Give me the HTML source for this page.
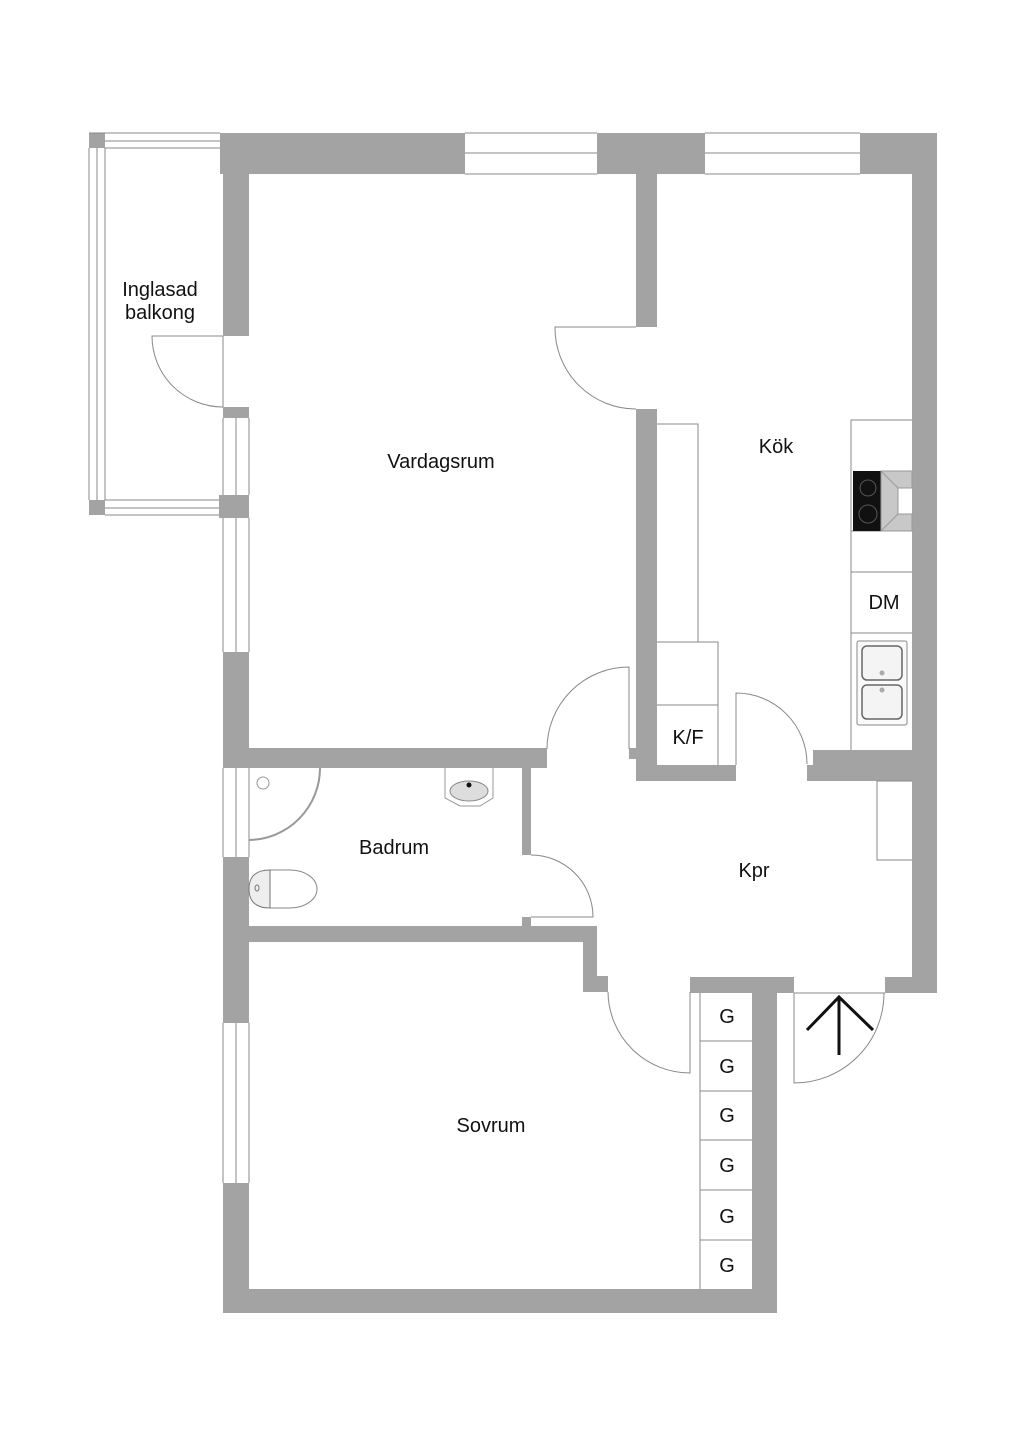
<!DOCTYPE html>
<html><head><meta charset="utf-8"><style>
html,body{margin:0;padding:0;background:#fff}
svg{display:block}
text{font-family:"Liberation Sans","DejaVu Sans",sans-serif;font-size:20px;fill:#111}
</style></head><body>
<svg width="1024" height="1449" viewBox="0 0 1024 1449" xmlns="http://www.w3.org/2000/svg">
<g fill="#a3a3a3">
<!-- top wall -->
<rect x="220" y="133" width="245" height="41"/>
<rect x="597" y="133" width="108" height="41"/>
<rect x="860" y="133" width="77" height="41"/>
<!-- right outer wall -->
<rect x="912" y="133" width="25" height="860"/>
<rect x="885" y="977" width="52" height="16"/>
<!-- left wall vardagsrum -->
<rect x="223" y="133" width="26" height="203"/>
<rect x="223" y="407" width="26" height="11"/>
<rect x="219" y="495" width="30" height="23"/>
<rect x="223" y="652" width="26" height="116"/>
<rect x="223" y="857" width="26" height="166"/>
<rect x="223" y="1183" width="26" height="130"/>
<!-- bottom -->
<rect x="223" y="1289" width="554" height="24"/>
<rect x="752" y="977" width="25" height="336"/>
<rect x="690" y="977" width="104" height="16"/>
<!-- vardagsrum/kök wall -->
<rect x="636" y="133" width="21" height="194"/>
<rect x="636" y="409" width="21" height="372"/>
<rect x="629" y="748" width="8" height="11"/>
<rect x="636" y="765" width="100" height="16"/>
<rect x="813" y="750" width="99" height="31"/>
<rect x="807" y="765" width="8" height="16"/>
<!-- vardagsrum bottom -->
<rect x="249" y="748" width="298" height="20"/>
<rect x="522" y="758" width="9" height="97"/>
<rect x="531" y="748" width="16" height="10"/>
<rect x="522" y="917" width="9" height="9"/>
<rect x="249" y="926" width="348" height="16"/>
<rect x="583" y="940" width="14" height="37"/>
<rect x="583" y="976" width="25" height="16"/>
<rect x="89" y="133" width="16" height="15"/>
<rect x="89" y="500" width="16" height="15"/>
</g>
<g fill="none" stroke="#888" stroke-width="1">
<!-- windows top -->
<path d="M465 133H597M465 153H597M465 174H597M705 133H860M705 153H860M705 174H860"/>
<!-- balcony -->
<path d="M105 133H220M105 141H220M105 148H220M89 148V500M97 148V500M105 148V500M105 500H219M105 508H219M105 515H219M89 133H220"/>
<!-- left windows -->
<path d="M223 418V495M236 418V495M249 418V495M223 518V652M236 518V652M249 518V652M223 768V857M236 768V857M249 768V857M223 1023V1183M236 1023V1183M249 1023V1183M223 336V407"/>
<!-- doors -->
<path d="M223 336H152A71 71 0 0 0 223 407"/>
<path d="M636 327H555A81 81 0 0 0 636 409"/>
<path d="M629 749V667A82 82 0 0 0 547 749"/>
<path d="M736 765V693A71 71 0 0 1 807 764"/>
<path d="M531 917H593A62 62 0 0 0 531 855"/>
<path d="M690 992V1073A82 82 0 0 1 608 992"/>
<path d="M794 993V1083A90 90 0 0 0 884 993"/>
<path d="M794 993H885"/>
<!-- kitchen counters -->
<path d="M657 424H698V642M657 642H718V765M657 705H718"/>
<path d="M912 420H851V750M851 531H912M851 572H912M851 633H912"/>
<!-- kpr closet -->
<path d="M912 781H877V860H912"/>
<!-- storage -->
<path d="M700 993V1289M700 1041H752M700 1091H752M700 1140H752M700 1190H752M700 1240H752"/>
</g>
<!-- shower -->
<path d="M249 840A72 72 0 0 0 320 768" fill="none" stroke="#999" stroke-width="2"/>
<circle cx="263" cy="783" r="6" fill="none" stroke="#999"/>
<!-- sink bath -->
<path d="M445 768V798L460 806H480L493 798V768" fill="none" stroke="#999"/>
<ellipse cx="469" cy="791" rx="19" ry="10" fill="#ddd" stroke="#888"/>
<circle cx="469" cy="785" r="2.5" fill="#111"/>
<!-- toilet -->
<path d="M270 870H290A27 19 0 0 1 290 908H270Z" fill="#fff" stroke="#888"/>
<path d="M270 870Q249 870 249 889Q249 908 270 908Z" fill="#eee" stroke="#777"/>
<ellipse cx="257" cy="888" rx="2" ry="3" fill="none" stroke="#777"/>
<!-- cooktop -->
<rect x="853" y="471" width="28" height="60" fill="#111"/>
<circle cx="868" cy="488" r="8" fill="none" stroke="#555"/>
<circle cx="868" cy="514" r="9" fill="none" stroke="#555"/>
<path d="M881 471H912V488H898V514H912V531H881Z" fill="#c8c8c8" stroke="#999"/>
<path d="M881 471L898 488V514L881 531" fill="none" stroke="#999"/>
<!-- sink kitchen -->
<rect x="857" y="641" width="50" height="84" rx="2" fill="#fafafa" stroke="#888"/>
<rect x="862" y="646" width="40" height="34" rx="5" fill="#f4f4f4" stroke="#666" stroke-width="1.5"/>
<rect x="862" y="685" width="40" height="34" rx="5" fill="#f4f4f4" stroke="#666" stroke-width="1.5"/>
<circle cx="882" cy="673" r="2.5" fill="#aaa"/><circle cx="882" cy="690" r="2.5" fill="#aaa"/>
<!-- arrow -->
<path d="M839 1055V997M807 1030L839 997L873 1030" fill="none" stroke="#111" stroke-width="3"/>
<!-- labels -->
<text x="160" y="296" text-anchor="middle">Inglasad</text>
<text x="160" y="319" text-anchor="middle">balkong</text>
<text x="441" y="468" text-anchor="middle">Vardagsrum</text>
<text x="776" y="453" text-anchor="middle">Kök</text>
<text x="884" y="609" text-anchor="middle">DM</text>
<text x="688" y="744" text-anchor="middle">K/F</text>
<text x="394" y="854" text-anchor="middle">Badrum</text>
<text x="754" y="877" text-anchor="middle">Kpr</text>
<text x="491" y="1132" text-anchor="middle">Sovrum</text>
<g text-anchor="middle">
<text x="727" y="1023">G</text><text x="727" y="1073">G</text><text x="727" y="1122">G</text>
<text x="727" y="1172">G</text><text x="727" y="1223">G</text><text x="727" y="1272">G</text>
</g>
</svg>
</body></html>
